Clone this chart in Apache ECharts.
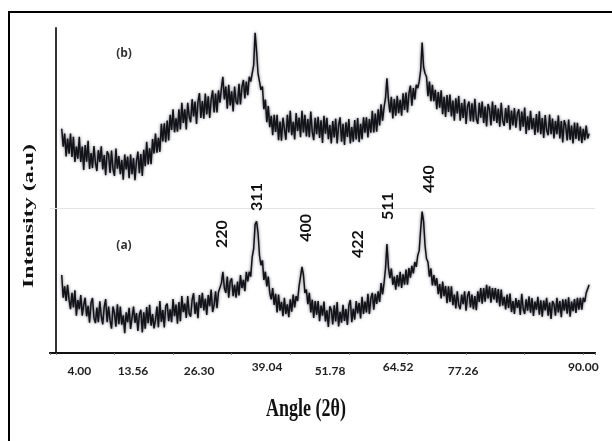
<!DOCTYPE html>
<html>
<head>
<meta charset="utf-8">
<script src="https://cdn.jsdelivr.net/npm/echarts@6/dist/echarts.min.js"></script>
<style>
  html, body { margin: 0; padding: 0; background: #fff; }
  #chart { width: 612px; height: 441px; }
</style>
</head>
<body>
<div id="chart"></div>
<script>
// Scan angles (2θ, degrees), shared by both patterns
const angles = [
  1, 1.25, 1.5, 1.75, 2, 2.25, 2.5, 2.75,
  3, 3.25, 3.5, 3.75, 4, 4.25, 4.5, 4.75,
  5, 5.25, 5.5, 5.75, 6, 6.25, 6.5, 6.75,
  7, 7.25, 7.5, 7.75, 8, 8.25, 8.5, 8.75,
  9, 9.25, 9.5, 9.75, 10, 10.25, 10.5, 10.75,
  11, 11.25, 11.5, 11.75, 12, 12.25, 12.5, 12.75,
  13, 13.25, 13.5, 13.75, 14, 14.25, 14.5, 14.75,
  15, 15.25, 15.5, 15.75, 16, 16.25, 16.5, 16.75,
  17, 17.25, 17.5, 17.75, 18, 18.25, 18.5, 18.75,
  19, 19.25, 19.5, 19.75, 20, 20.25, 20.5, 20.75,
  21, 21.25, 21.5, 21.75, 22, 22.25, 22.5, 22.75,
  23, 23.25, 23.5, 23.75, 24, 24.25, 24.5, 24.75,
  25, 25.25, 25.5, 25.75, 26, 26.25, 26.5, 26.75,
  27, 27.25, 27.5, 27.75, 28, 28.25, 28.5, 28.75,
  29, 29.25, 29.5, 29.75, 30, 30.25, 30.5, 30.75,
  31, 31.25, 31.5, 31.75, 32, 32.25, 32.5, 32.75,
  33, 33.25, 33.5, 33.75, 34, 34.25, 34.5, 34.75,
  35, 35.25, 35.5, 35.75, 36, 36.25, 36.5, 36.75,
  37, 37.25, 37.5, 37.75, 38, 38.25, 38.5, 38.75,
  39, 39.25, 39.5, 39.75, 40, 40.25, 40.5, 40.75,
  41, 41.25, 41.5, 41.75, 42, 42.25, 42.5, 42.75,
  43, 43.25, 43.5, 43.75, 44, 44.25, 44.5, 44.75,
  45, 45.25, 45.5, 45.75, 46, 46.25, 46.5, 46.75,
  47, 47.25, 47.5, 47.75, 48, 48.25, 48.5, 48.75,
  49, 49.25, 49.5, 49.75, 50, 50.25, 50.5, 50.75,
  51, 51.25, 51.5, 51.75, 52, 52.25, 52.5, 52.75,
  53, 53.25, 53.5, 53.75, 54, 54.25, 54.5, 54.75,
  55, 55.25, 55.5, 55.75, 56, 56.25, 56.5, 56.75,
  57, 57.25, 57.5, 57.75, 58, 58.25, 58.5, 58.75,
  59, 59.25, 59.5, 59.75, 60, 60.25, 60.5, 60.75,
  61, 61.25, 61.5, 61.75, 62, 62.25, 62.5, 62.75,
  63, 63.25, 63.5, 63.75, 64, 64.25, 64.5, 64.75,
  65, 65.25, 65.5, 65.75, 66, 66.25, 66.5, 66.75,
  67, 67.25, 67.5, 67.75, 68, 68.25, 68.5, 68.75,
  69, 69.25, 69.5, 69.75, 70, 70.25, 70.5, 70.75,
  71, 71.25, 71.5, 71.75, 72, 72.25, 72.5, 72.75,
  73, 73.25, 73.5, 73.75, 74, 74.25, 74.5, 74.75,
  75, 75.25, 75.5, 75.75, 76, 76.25, 76.5, 76.75,
  77, 77.25, 77.5, 77.75, 78, 78.25, 78.5, 78.75,
  79, 79.25, 79.5, 79.75, 80, 80.25, 80.5, 80.75,
  81, 81.25, 81.5, 81.75, 82, 82.25, 82.5, 82.75,
  83, 83.25, 83.5, 83.75, 84, 84.25, 84.5, 84.75,
  85, 85.25, 85.5, 85.75, 86, 86.25, 86.5, 86.75,
  87, 87.25, 87.5, 87.75, 88, 88.25, 88.5, 88.75,
  89, 89.25, 89.5, 89.75, 90, 90.25, 90.5, 90.75,
  91
];

// Pattern (a), lower trace (a.u.)
const intensityA = [
  24, 17, 20.5, 16, 21, 16.5, 13.5, 18.5,
  14, 19.3, 11.5, 16.3, 13.5, 17.8, 11.5, 14.8,
  17, 11.3, 14.5, 9.3, 15.5, 16.9, 10.8, 9.2,
  14, 9.5, 15.9, 11.4, 8.8, 14.2, 16.6, 9.5,
  14.3, 10.1, 7.5, 14.3, 12.2, 8.1, 15, 8.9,
  14.3, 8.7, 11.6, 6.1, 12.5, 9.5, 13.9, 7.4,
  7.8, 14.3, 9.3, 12.3, 6.8, 11.8, 13.3, 6.3,
  12.5, 7.5, 14.1, 9.2, 14.8, 8.4, 12, 7.6,
  10.2, 14.3, 7.9, 16, 9.6, 13.2, 7.9, 14.5,
  15.2, 9.8, 13.4, 9.5, 16.6, 11.3, 14.9, 9,
  15.7, 9.8, 17.5, 12.6, 15.2, 10.8, 17.5, 12.1,
  11.2, 16.3, 18.4, 12, 15.6, 10.7, 17.8, 13.9,
  18.5, 13.1, 16.7, 11.7, 17.8, 14.4, 19.5, 12.6,
  14.7, 19, 13.8, 18.7, 18.5, 21.5, 25, 20,
  18.5, 23.5, 17, 22, 23, 17.5, 21, 17,
  22, 17.7, 24, 20, 22.5, 19, 25, 22,
  25, 23.5, 29.5, 32, 39.5, 40.5, 37, 30,
  27, 28.5, 22.5, 25, 20.5, 23.5, 18.5, 16.5,
  20, 14.8, 18.2, 12.5, 18, 13, 15.7, 11.3,
  17, 12, 15, 11, 16.5, 12.7, 18, 14,
  17.5, 16, 20.5, 20.5, 26.5, 24, 18.5, 19.5,
  15, 18.5, 12.5, 16.4, 10.8, 16, 11.8, 16,
  9.8, 14.6, 11.5, 15.8, 9.7, 13.1, 8, 14.4,
  13.3, 8.8, 14.7, 9.7, 15.7, 8.2, 12.7, 9.3,
  14.8, 9.9, 13.5, 8.6, 14.7, 16.3, 9.5, 13.6,
  10.3, 16, 12.2, 15.4, 10.6, 17.3, 12, 15.8,
  12.5, 18.2, 12, 16.8, 18.5, 13.3, 18.2, 15.1,
  19, 15.7, 21.5, 18, 21.5, 26, 33.5, 26.5,
  23, 26, 21, 23.5, 19.5, 24, 20.5, 25,
  20, 24.2, 21, 25.7, 21, 26.1, 23.2, 26.8,
  24.5, 28, 26.5, 30, 31.5, 38, 43.5, 40.5,
  33, 29, 28, 23.5, 26, 20.8, 24, 20.7,
  23, 18.1, 21.2, 16.8, 22, 17.5, 20.6, 15.3,
  20.5, 15.7, 20.5, 14.7, 18, 13.7, 19, 14.7,
  13.5, 18, 15, 19, 13, 17.5, 19, 14,
  18, 13.5, 17.5, 13.2, 19, 15.7, 20, 15.2,
  20, 15.8, 21, 16.8, 20.5, 15.5, 20, 16.5,
  20, 15.5, 19.7, 14.3, 19.5, 14.6, 17.3, 13.4,
  18, 13.9, 18.3, 12.6, 16, 12, 16.9, 13.9,
  16.3, 11.7, 18.2, 13.6, 12, 16.5, 13, 17.4,
  12.4, 16.9, 11.4, 15.8, 13.3, 17.3, 11.8, 16.2,
  11.2, 16.1, 13.1, 17, 11.5, 15.5, 10.5, 16,
  15, 11.5, 17, 12.5, 16, 11, 16.5, 13,
  16.5, 12.1, 17.1, 11.2, 15.8, 12.9, 16.6, 12.3,
  17, 13.3, 17, 13.3, 17, 15.7, 18.5, 18.5,
  21
];

// Pattern (b), upper trace (a.u.)
const intensityB = [
  69, 63.5, 67.5, 60.5, 66, 61.3, 67.5, 60.3,
  66.5, 58.8, 63.5, 59.8, 66.5, 58.8, 63.5, 56.3,
  64, 58.9, 65.3, 56.6, 61.5, 56.9, 63.7, 58.6,
  56, 62.4, 58.8, 63.6, 56.5, 60.9, 54.7, 62.1,
  61, 55.4, 62.3, 56.6, 54.5, 62.9, 56.7, 60.6,
  55, 59.4, 53.3, 61.1, 56.5, 60.4, 53.8, 61.1,
  55, 60, 53.2, 59, 62, 55.3, 61.2, 54.5,
  62.5, 57.5, 65, 58, 63, 58.1, 65.8, 61.4,
  67.5, 61.6, 66.2, 61.9, 70.5, 65.1, 70.7, 64.9,
  71.5, 65.4, 73.3, 68.6, 75, 67.9, 72.2, 68.1,
  75, 68.8, 77, 70.8, 75, 68.8, 77, 72.8,
  71, 78.1, 72.8, 77.4, 70.5, 77.3, 80, 72.3,
  77.5, 72.1, 79.8, 73.4, 79, 72.3, 78, 80.8,
  74, 79.8, 74, 80.8, 77, 81.5, 85, 78,
  82, 75.2, 82.5, 76.2, 80.5, 74.3, 82, 77.3,
  76.5, 82.8, 76.5, 81.8, 84, 78.3, 83.5, 79.3,
  85, 83.5, 86, 88.5, 98.5, 93, 86, 83.5,
  81, 82, 75, 78, 71, 76, 69.5, 73,
  67, 73.3, 68, 73.3, 65.5, 71.2, 65.3, 72.4,
  72, 65.6, 73.3, 67.9, 74.5, 67, 71.1, 65.7,
  73.8, 68.3, 72.4, 66.4, 74.5, 67.9, 73.3, 66.6,
  72, 66.4, 74.3, 68.1, 65.5, 72.4, 67.3, 72.7,
  66.2, 71.6, 64.6, 73, 67.5, 72.4, 65.8, 70.1,
  64.5, 71.4, 66.3, 72.1, 64.5, 70, 72.5, 65,
  70.5, 64, 71, 66.5, 72, 64.5, 69.5, 65,
  71.7, 65.7, 72.3, 64.9, 70.5, 65.8, 72.5, 67.8,
  72.5, 66.3, 72, 67.8, 74.5, 67.9, 73.7, 68.1,
  75, 70, 76.5, 71.5, 75.5, 78.5, 84.5, 78,
  74, 78.8, 72.2, 78.1, 73, 79.1, 73.8, 77.9,
  73, 79.9, 74.8, 80.1, 74, 79.9, 82.3, 76.1,
  81.5, 78, 82.5, 81.5, 83.5, 87, 95.5, 88,
  86, 85, 79, 83.5, 77.5, 82.5, 77.5, 81,
  75, 80.3, 75.5, 80.8, 73.5, 78.8, 72.6, 79.4,
  74.2, 79.5, 72.8, 77.7, 71.5, 78.4, 73.7, 79.1,
  71.5, 76.9, 72.3, 78.1, 70.5, 75.9, 77.4, 71.3,
  76.8, 71.2, 78.2, 72.1, 70.5, 77, 72.4, 77.4,
  70.8, 75.8, 69.7, 76.6, 75, 70, 77.4, 71.4,
  76.3, 70.8, 75.2, 69.6, 77, 71.5, 69.9, 75.4,
  70.8, 76.2, 68.7, 74.6, 70, 75.4, 69.3, 73.6,
  75, 68.4, 74.3, 69.6, 75.5, 67.4, 72.8, 68.6,
  74.5, 68.9, 72.3, 67.1, 73.5, 67.9, 74.4, 67.3,
  72.3, 66.2, 73.2, 68.6, 67, 73.4, 67.3, 72.1,
  66, 71.4, 67.3, 73.1, 66, 71.4, 64.8, 71.6,
  70, 65.4, 71.8, 65.6, 70, 64.5, 70.9, 65.9,
  70.8, 65.3, 69.7, 64.6, 69, 65.5, 70, 66,
  67.5
];

// Reflection indices and the angles they annotate
const peakLabels = ['220', '311', '400', '422', '511', '440'];
const peakAngles = [28.35, 34.3, 42.7, 51.6, 56.7, 63.7];

// Bottom-axis tick texts and where they sit along the scan axis
const tickLabels = ['4.00', '13.56', '26.30', '39.04', '51.78', '64.52', '77.26', '90.00'];
const tickAngles = [4, 13.16, 24.43, 36.03, 46.78, 58.39, 69.48, 90];

// Heights (axis units) at which the rotated index labels are centred
const peakLabelLevels = [36.6, 48, 38.5, 33.5, 45.2, 53.5];
// Tick texts drawn a little higher than the rest
const raisedTicks = ['39.04', '64.52', '90.00'];

const chart = echarts.init(document.getElementById('chart'), null, { renderer: 'canvas' });

const toPairs = ys => angles.map((a, i) => [a, ys[i]]);
// Heavy dark trace with a soft grey fringe
const traceStyle = { color: '#121219', width: 1.5, shadowColor: 'rgba(70,70,85,0.85)', shadowBlur: 3 };

const option = {
  backgroundColor: '#ffffff',
  animation: false,
  grid: { left: 50, right: 17, top: 28, bottom: 88, containLabel: false },
  xAxis: [
    {
      type: 'value', position: 'bottom', min: -1, max: 92,
      axisLine: { show: true, lineStyle: { color: '#333', width: 2 } },
      axisTick: { show: false },
      splitLine: { show: false },
      axisLabel: {
        customValues: tickAngles,
        margin: 8,
        formatter: v => {
          const i = tickAngles.indexOf(v);
          const t = i >= 0 ? tickLabels[i] : '';
          return raisedTicks.includes(t) ? '{hi|' + t + '}' : '{lo|' + t + '}';
        },
        rich: {
          hi: { fontFamily: 'Lato', fontWeight: 'bold', fontSize: 12, color: '#1e1e1e', padding: [0, 0, 0, 0] },
          lo: { fontFamily: 'Lato', fontWeight: 'bold', fontSize: 12, color: '#1e1e1e', padding: [4, 0, 0, 0] }
        }
      }
    },
    {
      type: 'value', position: 'top', min: -1, max: 92,
      axisLine: { show: true, lineStyle: { color: '#111', width: 2 } },
      axisTick: { show: true, inside: true, length: 2, lineStyle: { color: '#777' } },
      axisLabel: { show: false },
      splitLine: { show: false },
      splitNumber: 12
    }
  ],
  yAxis: [
    {
      type: 'value', position: 'left', min: 0, max: 100,
      axisLine: { show: true, lineStyle: { color: '#666', width: 2 } },
      axisTick: { show: false }, axisLabel: { show: false }, splitLine: { show: false }
    },
    {
      type: 'value', position: 'right', min: 0, max: 100,
      axisLine: { show: true, lineStyle: { color: '#222', width: 1.5 } },
      axisTick: { show: false }, axisLabel: { show: false }, splitLine: { show: false }
    }
  ],
  series: [
    {
      name: '(b)', type: 'line', data: toPairs(intensityB),
      showSymbol: false, symbol: 'none', lineStyle: traceStyle,
      markLine: {
        silent: true, symbol: 'none', label: { show: false },
        lineStyle: { color: '#e4e4e4', width: 1, type: 'solid', shadowBlur: 0 },
        data: [{ yAxis: 44.6 }]
      }
    },
    {
      name: '(a)', type: 'line', data: toPairs(intensityA),
      showSymbol: false, symbol: 'none', lineStyle: traceStyle,
      markPoint: {
        symbol: 'circle', symbolSize: 0, silent: true,
        label: {
          show: true, position: 'inside', rotate: 90,
          fontFamily: 'Lato', fontWeight: 'bold', fontSize: 16, color: '#111',
          formatter: p => p.name
        },
        data: peakLabels.map((t, i) => ({ name: t, coord: [peakAngles[i], peakLabelLevels[i]] }))
      }
    }
  ],
  graphic: [
    { type: 'rect', silent: true, shape: { x: 9, y: 12, width: 640, height: 480 },
      style: { fill: null, stroke: '#000', lineWidth: 2 } },
    { type: 'text', silent: true, x: 124, y: 246,
      style: { text: '(a)', font: 'bold 12px "Open Sans"', fill: '#333', textAlign: 'center', textVerticalAlign: 'middle' } },
    { type: 'text', silent: true, x: 124, y: 54,
      style: { text: '(b)', font: 'bold 12px "Open Sans"', fill: '#333', textAlign: 'center', textVerticalAlign: 'middle' } },
    { type: 'text', silent: true, x: 29, y: 216, rotation: Math.PI / 2, scaleX: 1.6,
      style: { text: 'Intensity (a.u)', font: 'bold 15px "Liberation Serif"', fill: '#111', textAlign: 'center', textVerticalAlign: 'middle' } },
    { type: 'text', silent: true, x: 306, y: 410, scaleY: 1.35,
      style: { text: 'Angle (2θ)', font: 'bold 18px "Liberation Serif"', fill: '#111', textAlign: 'center', textVerticalAlign: 'middle' } }
  ]
};

chart.setOption(option);
</script>
</body>
</html>
